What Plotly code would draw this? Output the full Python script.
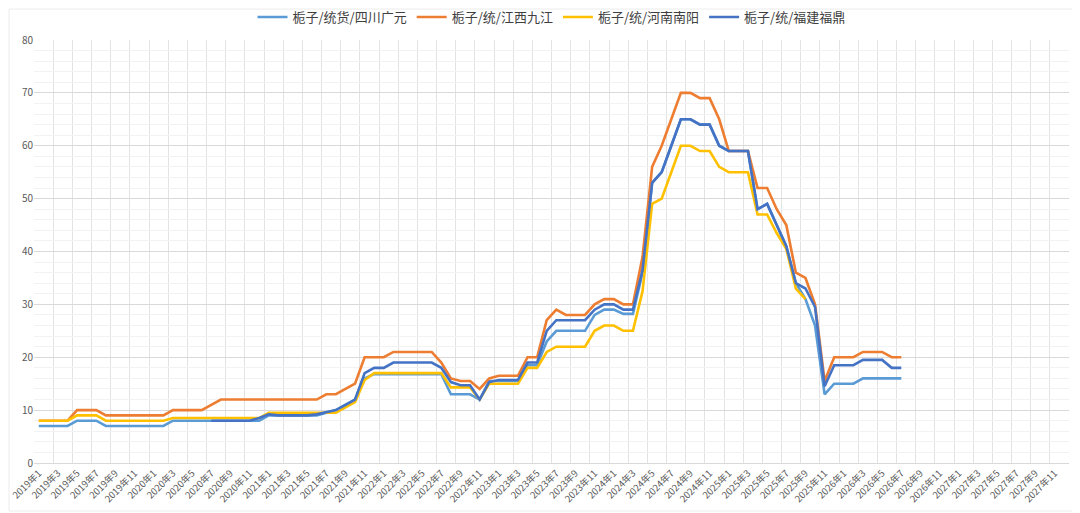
import plotly.graph_objects as go

# Month categories 2019-1 .. 2027-12
months = [f"{y}年{m}" for y in range(2019, 2028) for m in range(1, 13)]
tick_labels = months[::2]

N = None
guangyuan = ([7]*4 + [8]*3 + [7]*7 + [8]*9 + [8] + [9]*6 + [9.5, 10, 11, 12, 16] + [16.8]*8 +
             [13, 13, 13, 12] + [15.5]*4 + [18.5, 18.5, 23] + [25]*4 + [28, 29, 29, 28.2, 28.2] +
             [36, 53, 55, 60, 65, 65, 64, 64, 60, 59, 59, 59, 48, 49, 45, 41, 34, 31, 26,
              13, 15, 15, 15, 16, 16, 16, 16, 16])
jiujiang = ([8]*4 + [10]*3 + [9]*7 + [10]*4 + [11] + [12]*11 + [13, 13, 14, 15] + [20]*3 + [21]*5 +
            [19, 16, 15.5, 15.5, 14, 16, 16.5, 16.5, 16.5, 20, 20, 27, 29, 28, 28, 28, 30, 31, 31, 30, 30] +
            [39, 56, 60, 65, 70, 70, 69, 69, 65, 59, 59, 59, 52, 52, 48, 45, 36, 35, 30,
             15.5, 20, 20, 20, 21, 21, 21, 20, 20])
nanyang = ([8]*4 + [9]*3 + [8]*7 + [8.5]*10 + [9.5]*8 + [10.5, 11.5, 15.7] + [17]*8 +
           [14.3, 14.3, 14.3, 12, 15, 15, 15, 15, 18, 18, 21, 22, 22, 22, 22, 25, 26, 26, 25, 25] +
           [32.5, 49, 50, 55, 60, 60, 59, 59, 56, 55, 55, 55, 47, 47, 43.5, 40.5, 33, 31])
fuding = ([N]*18 + [8]*5 + [8.5, 9.2, 9, 9, 9, 9, 9.2, 9.6, 10, 11, 12, 17, 18, 18] + [19]*5 +
          [18, 15.3, 14.7, 14.7, 12, 15.3, 15.7, 15.7, 15.7, 19, 19, 25, 27, 27, 27, 27, 29, 30, 30, 29, 29] +
          [36.5, 53, 55, 60, 65, 65, 64, 64, 60, 59, 59, 59, 48, 49, 45, 41, 34, 33, 29.5,
           14.5, 18.5, 18.5, 18.5, 19.5, 19.5, 19.5, 18, 18])

series = [
    ("栀子/统货/四川广元", guangyuan, "#5B9BD5"),
    ("栀子/统/江西九江", jiujiang, "#ED7D31"),
    ("栀子/统/河南南阳", nanyang, "#FFC000"),
    ("栀子/统/福建福鼎", fuding, "#4472C4"),
]

fig = go.Figure()
for name, vals, color in series:
    fig.add_trace(go.Scatter(
        x=list(range(len(vals))), y=vals, name=name, mode="lines",
        line=dict(color=color, width=2.6), connectgaps=False,
        hovertext=[months[i] for i in range(len(vals))],
    ))

# page has an 8px body margin, so the figure is sized/placed to land the plot area correctly
W, H = 1072, 505
ml, mr, mt, mb = 26, 11, 32, 50
pw, ph = W - ml - mr, H - mt - mb

fig.update_layout(
    width=W, height=H,
    margin=dict(l=ml, r=mr, t=mt, b=mb, autoexpand=False),
    paper_bgcolor="white", plot_bgcolor="white",
    font=dict(family="Noto Sans CJK SC, sans-serif", color="#595959"),
    showlegend=True,
    legend=dict(orientation="h", x=0.5, xanchor="center", y=1 + 23/ph, yanchor="middle",
                font=dict(size=13, color="#404040"), itemwidth=30, tracegroupgap=0,
                bgcolor="rgba(0,0,0,0)"),
    xaxis=dict(
        range=[-0.5, len(months) - 0.5],
        tickmode="array",
        tickvals=list(range(0, len(months), 2)),
        ticktext=tick_labels,
        tickangle=-45,
        tickfont=dict(size=9.5, color="#595959"),
        showgrid=False, automargin=False,
        minor=dict(tickmode="array",
                   tickvals=[i - 0.5 for i in range(0, len(months) + 1, 2)],
                   showgrid=True, gridcolor="#e3e3e3", gridwidth=1, ticklen=0),
        showline=True, linecolor="#d9d9d9", linewidth=1,
        zeroline=False, ticks="",
    ),
    yaxis=dict(
        range=[0, 80], dtick=10, tick0=0,
        tickfont=dict(size=10, color="#595959"),
        showgrid=True, gridcolor="#d9d9d9", gridwidth=1, automargin=False,
        minor=dict(dtick=2, showgrid=True, gridcolor="#f2f2f2", gridwidth=1, ticklen=0),
        zeroline=False, showline=False, ticks="",
    ),
    shapes=[dict(type="rect", xref="paper", yref="paper",
                 x0=-(ml - 1) / pw, x1=1 + (mr - 3) / pw,
                 y0=-(mb - 2) / ph, y1=1 + (mt - 1) / ph,
                 line=dict(color="#ececec", width=1), fillcolor="rgba(0,0,0,0)", layer="below")],
)

fig.write_html("out.html")
